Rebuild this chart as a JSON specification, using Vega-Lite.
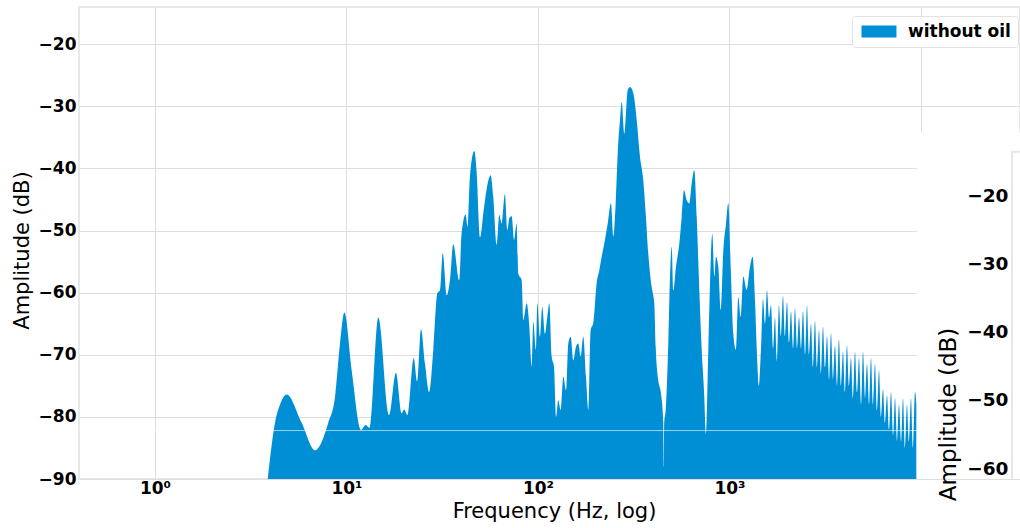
{
  "$schema": "https://vega.github.io/schema/vega-lite/v6.json",
  "width": 941,
  "height": 472,
  "autosize": {"type": "none"},
  "padding": {"left": 79, "top": 7, "right": 0, "bottom": 49},
  "background": "white",
  "config": {
    "font": "DejaVu Sans",
    "view": {"stroke": "#e8e8e8", "strokeWidth": 2},
    "axis": {
      "gridColor": "#dedede",
      "gridWidth": 1,
      "labelColor": "black",
      "titleColor": "black",
      "labelFontWeight": "bold",
      "labelFontSize": 17,
      "titleFontWeight": "normal",
      "titleFontSize": 21,
      "ticks": false,
      "domain": false
    }
  },
  "data": {
    "values": [
      {"frequency": 3.88, "amplitude": -90},
      {"frequency": 4.23, "amplitude": -81.0},
      {"frequency": 4.5, "amplitude": -78.0},
      {"frequency": 4.87, "amplitude": -76.4},
      {"frequency": 5.84, "amplitude": -81.0},
      {"frequency": 6.85, "amplitude": -85.4},
      {"frequency": 8.03, "amplitude": -81.0},
      {"frequency": 8.71, "amplitude": -76.8},
      {"frequency": 9.25, "amplitude": -68.2},
      {"frequency": 9.75, "amplitude": -63.2},
      {"frequency": 10.64, "amplitude": -72.5},
      {"frequency": 11.9, "amplitude": -82.1},
      {"frequency": 12.6, "amplitude": -81.3},
      {"frequency": 13.2, "amplitude": -81.8},
      {"frequency": 14.66, "amplitude": -64.0},
      {"frequency": 16.67, "amplitude": -79.7},
      {"frequency": 18.13, "amplitude": -72.9},
      {"frequency": 19.42, "amplitude": -79.4},
      {"frequency": 20.0, "amplitude": -78.8},
      {"frequency": 20.8, "amplitude": -79.7},
      {"frequency": 22.45, "amplitude": -70.5},
      {"frequency": 23.4, "amplitude": -74.3},
      {"frequency": 24.5, "amplitude": -65.9},
      {"frequency": 25.7, "amplitude": -71.4},
      {"frequency": 27.0, "amplitude": -76.0},
      {"frequency": 28.4, "amplitude": -69.2},
      {"frequency": 29.8, "amplitude": -60.1},
      {"frequency": 30.8, "amplitude": -59.6},
      {"frequency": 31.8, "amplitude": -53.6},
      {"frequency": 33.4, "amplitude": -60.4},
      {"frequency": 34.7, "amplitude": -57.9},
      {"frequency": 36.1, "amplitude": -52.2},
      {"frequency": 38.8, "amplitude": -58.0},
      {"frequency": 39.9, "amplitude": -50.5},
      {"frequency": 41.9, "amplitude": -47.4},
      {"frequency": 42.9, "amplitude": -49.4},
      {"frequency": 44.1, "amplitude": -41.4},
      {"frequency": 46.5, "amplitude": -37.2},
      {"frequency": 47.8, "amplitude": -40.5},
      {"frequency": 49.8, "amplitude": -51.1},
      {"frequency": 52.2, "amplitude": -46.4},
      {"frequency": 54.6, "amplitude": -42.4},
      {"frequency": 56.6, "amplitude": -41.1},
      {"frequency": 58.4, "amplitude": -44.6},
      {"frequency": 60.9, "amplitude": -52.3},
      {"frequency": 62.8, "amplitude": -47.5},
      {"frequency": 64.6, "amplitude": -48.9},
      {"frequency": 67.2, "amplitude": -44.1},
      {"frequency": 69.2, "amplitude": -49.9},
      {"frequency": 70.8, "amplitude": -48.0},
      {"frequency": 72.9, "amplitude": -47.7},
      {"frequency": 74.9, "amplitude": -51.5},
      {"frequency": 77.4, "amplitude": -48.9},
      {"frequency": 78.9, "amplitude": -56.9},
      {"frequency": 82.2, "amplitude": -58.0},
      {"frequency": 83.8, "amplitude": -64.4},
      {"frequency": 87.3, "amplitude": -61.7},
      {"frequency": 90.1, "amplitude": -65.5},
      {"frequency": 92.7, "amplitude": -71.9},
      {"frequency": 94.5, "amplitude": -64.7},
      {"frequency": 97.6, "amplitude": -69.2},
      {"frequency": 99.2, "amplitude": -61.7},
      {"frequency": 102.4, "amplitude": -67.1},
      {"frequency": 105.3, "amplitude": -62.3},
      {"frequency": 108.8, "amplitude": -66.6},
      {"frequency": 111.8, "amplitude": -63.9},
      {"frequency": 114.6, "amplitude": -61.7},
      {"frequency": 117.9, "amplitude": -70.3},
      {"frequency": 121.2, "amplitude": -71.9},
      {"frequency": 124.2, "amplitude": -80.0},
      {"frequency": 127.6, "amplitude": -77.3},
      {"frequency": 131.4, "amplitude": -78.9},
      {"frequency": 135.6, "amplitude": -73.5},
      {"frequency": 140.1, "amplitude": -75.7},
      {"frequency": 143.9, "amplitude": -68.2},
      {"frequency": 148.2, "amplitude": -67.1},
      {"frequency": 152.9, "amplitude": -70.9},
      {"frequency": 157.9, "amplitude": -68.7},
      {"frequency": 162.3, "amplitude": -68.2},
      {"frequency": 167.1, "amplitude": -70.3},
      {"frequency": 172.4, "amplitude": -67.1},
      {"frequency": 178.1, "amplitude": -73.5},
      {"frequency": 183.1, "amplitude": -78.9},
      {"frequency": 188.4, "amplitude": -66.0},
      {"frequency": 194.4, "amplitude": -64.9},
      {"frequency": 202.5, "amplitude": -58.5},
      {"frequency": 209.0, "amplitude": -56.4},
      {"frequency": 213.3, "amplitude": -54.8},
      {"frequency": 221.9, "amplitude": -52.1},
      {"frequency": 231.2, "amplitude": -48.9},
      {"frequency": 240.6, "amplitude": -45.6},
      {"frequency": 247.3, "amplitude": -51.0},
      {"frequency": 254.5, "amplitude": -45.6},
      {"frequency": 260.8, "amplitude": -37.6},
      {"frequency": 268.1, "amplitude": -32.2},
      {"frequency": 273.6, "amplitude": -29.3},
      {"frequency": 282.3, "amplitude": -34.4},
      {"frequency": 294.1, "amplitude": -27.4},
      {"frequency": 302.3, "amplitude": -26.9},
      {"frequency": 314.6, "amplitude": -27.9},
      {"frequency": 327.7, "amplitude": -32.2},
      {"frequency": 340.9, "amplitude": -38.1},
      {"frequency": 354.6, "amplitude": -41.9},
      {"frequency": 365.1, "amplitude": -47.2},
      {"frequency": 376.7, "amplitude": -53.7},
      {"frequency": 392.4, "amplitude": -59.1},
      {"frequency": 404.9, "amplitude": -61.7},
      {"frequency": 411.7, "amplitude": -68.7},
      {"frequency": 424.8, "amplitude": -74.1},
      {"frequency": 438.8, "amplitude": -76.2},
      {"frequency": 451.1, "amplitude": -81.0},
      {"frequency": 453.5, "amplitude": -88.0},
      {"frequency": 456.0, "amplitude": -81.0},
      {"frequency": 464.3, "amplitude": -78.9},
      {"frequency": 479.0, "amplitude": -68.2},
      {"frequency": 489.0, "amplitude": -57.4},
      {"frequency": 499.1, "amplitude": -52.6},
      {"frequency": 508.8, "amplitude": -59.6},
      {"frequency": 525.6, "amplitude": -55.8},
      {"frequency": 547.0, "amplitude": -52.1},
      {"frequency": 563.0, "amplitude": -47.8},
      {"frequency": 578.8, "amplitude": -43.5},
      {"frequency": 597.8, "amplitude": -45.1},
      {"frequency": 616.8, "amplitude": -45.6},
      {"frequency": 634.9, "amplitude": -42.4},
      {"frequency": 655.1, "amplitude": -40.3},
      {"frequency": 674.3, "amplitude": -47.8},
      {"frequency": 695.7, "amplitude": -59.6},
      {"frequency": 716.0, "amplitude": -69.2},
      {"frequency": 736.1, "amplitude": -75.7},
      {"frequency": 754.0, "amplitude": -82.7},
      {"frequency": 775.2, "amplitude": -69.2},
      {"frequency": 791.2, "amplitude": -58.5},
      {"frequency": 813.4, "amplitude": -50.5},
      {"frequency": 833.1, "amplitude": -57.4},
      {"frequency": 850.4, "amplitude": -54.2},
      {"frequency": 874.2, "amplitude": -55.8},
      {"frequency": 899.8, "amplitude": -62.8},
      {"frequency": 928.4, "amplitude": -53.2},
      {"frequency": 959.0, "amplitude": -48.9},
      {"frequency": 985.6, "amplitude": -45.6},
      {"frequency": 1014.6, "amplitude": -55.8},
      {"frequency": 1046.7, "amplitude": -66.6},
      {"frequency": 1081.3, "amplitude": -69.2},
      {"frequency": 1111.7, "amplitude": -60.7},
      {"frequency": 1144.2, "amplitude": -63.9},
      {"frequency": 1180.6, "amplitude": -57.4},
      {"frequency": 1229.8, "amplitude": -59.6},
      {"frequency": 1279.4, "amplitude": -55.8},
      {"frequency": 1321.6, "amplitude": -54.2},
      {"frequency": 1358.9, "amplitude": -61.2},
      {"frequency": 1392, "amplitude": -70},
      {"frequency": 1425.6, "amplitude": -75},
      {"frequency": 1460.5, "amplitude": -69},
      {"frequency": 1495.9, "amplitude": -61},
      {"frequency": 1532.3, "amplitude": -65},
      {"frequency": 1569.5, "amplitude": -59.6},
      {"frequency": 1607.9, "amplitude": -64},
      {"frequency": 1646.9, "amplitude": -62},
      {"frequency": 1687.2, "amplitude": -69},
      {"frequency": 1728.1, "amplitude": -64},
      {"frequency": 1770.1, "amplitude": -71},
      {"frequency": 1813.4, "amplitude": -62},
      {"frequency": 1857.4, "amplitude": -67},
      {"frequency": 1902.8, "amplitude": -60.5},
      {"frequency": 1949.0, "amplitude": -67},
      {"frequency": 1996.7, "amplitude": -61.5},
      {"frequency": 2045.2, "amplitude": -68},
      {"frequency": 2094.8, "amplitude": -63},
      {"frequency": 2146.1, "amplitude": -69},
      {"frequency": 2198.2, "amplitude": -62.5},
      {"frequency": 2251.9, "amplitude": -69},
      {"frequency": 2306.7, "amplitude": -64},
      {"frequency": 2363.1, "amplitude": -69},
      {"frequency": 2420.5, "amplitude": -63},
      {"frequency": 2479.7, "amplitude": -70},
      {"frequency": 2539.8, "amplitude": -62},
      {"frequency": 2601.6, "amplitude": -70},
      {"frequency": 2665.2, "amplitude": -65},
      {"frequency": 2730.0, "amplitude": -72},
      {"frequency": 2796.9, "amplitude": -64.5},
      {"frequency": 2864.9, "amplitude": -72},
      {"frequency": 2934.9, "amplitude": -66},
      {"frequency": 3006.1, "amplitude": -73},
      {"frequency": 3079.6, "amplitude": -65.5},
      {"frequency": 3154.5, "amplitude": -72},
      {"frequency": 3231.1, "amplitude": -67},
      {"frequency": 3310.2, "amplitude": -74},
      {"frequency": 3388.4, "amplitude": -66.5},
      {"frequency": 3471.3, "amplitude": -74},
      {"frequency": 3555.8, "amplitude": -68.5},
      {"frequency": 3642.6, "amplitude": -75},
      {"frequency": 3731.2, "amplitude": -67.5},
      {"frequency": 3821.6, "amplitude": -75},
      {"frequency": 3915.2, "amplitude": -69.5},
      {"frequency": 4010.3, "amplitude": -76},
      {"frequency": 4108.3, "amplitude": -68.5},
      {"frequency": 4207.9, "amplitude": -75},
      {"frequency": 4310.9, "amplitude": -70.5},
      {"frequency": 4415.7, "amplitude": -77},
      {"frequency": 4523.7, "amplitude": -69.5},
      {"frequency": 4633.5, "amplitude": -76},
      {"frequency": 4745.6, "amplitude": -70.5},
      {"frequency": 4861.8, "amplitude": -78},
      {"frequency": 4979.8, "amplitude": -69.5},
      {"frequency": 5101.6, "amplitude": -77},
      {"frequency": 5225.6, "amplitude": -71.5},
      {"frequency": 5353.3, "amplitude": -78},
      {"frequency": 5483.4, "amplitude": -70.5},
      {"frequency": 5616.6, "amplitude": -78},
      {"frequency": 5754.4, "amplitude": -71.5},
      {"frequency": 5894.0, "amplitude": -79},
      {"frequency": 6038.4, "amplitude": -72.5},
      {"frequency": 6184.7, "amplitude": -80},
      {"frequency": 6336.4, "amplitude": -75.5},
      {"frequency": 6489.6, "amplitude": -81},
      {"frequency": 6648.3, "amplitude": -76.5},
      {"frequency": 6809.3, "amplitude": -82},
      {"frequency": 6974.2, "amplitude": -76},
      {"frequency": 7144.8, "amplitude": -83},
      {"frequency": 7318.2, "amplitude": -77},
      {"frequency": 7497.2, "amplitude": -84},
      {"frequency": 7679.8, "amplitude": -78},
      {"frequency": 7867.7, "amplitude": -84},
      {"frequency": 8053.9, "amplitude": -77},
      {"frequency": 8249.5, "amplitude": -85},
      {"frequency": 8451.8, "amplitude": -78},
      {"frequency": 8656.5, "amplitude": -84},
      {"frequency": 8868.3, "amplitude": -77},
      {"frequency": 9082.1, "amplitude": -85},
      {"frequency": 9305.9, "amplitude": -76},
      {"frequency": 9474, "amplitude": -78},
      {"frequency": 9480, "amplitude": -90}
    ]
  },
  "layer": [
    {
      "layer": [
        {
          "mark": {"type": "area", "clip": true, "opacity": 1, "interpolate": "monotone"},
          "encoding": {
            "x": {
              "field": "frequency",
              "type": "quantitative",
              "scale": {"type": "log", "domain": [0.401, 32890], "nice": false},
              "axis": {
                "values": [1, 10, 100, 1000, 10000],
                "labelExpr": "datum.value == 1 ? '10⁰' : datum.value == 10 ? '10¹' : datum.value == 100 ? '10²' : datum.value == 1000 ? '10³' : ''",
                "labelPadding": 1,
                "title": "Frequency (Hz, log)",
                "titleX": 475,
                "titleY": 21,
                "titleBaseline": "top",
                "titleAlign": "center"
              }
            },
            "y": {
              "field": "amplitude",
              "type": "quantitative",
              "scale": {"domain": [-90, -14], "nice": false, "zero": false},
              "axis": {
                "values": [-90, -80, -70, -60, -50, -40, -30, -20],
                "labelPadding": 3,
                "title": "Amplitude (dB)",
                "titleX": -57,
                "titleY": 243,
                "titleBaseline": "middle",
                "titleAlign": "center",
                "titleAngle": -90
              }
            },
            "y2": {"datum": -90},
            "color": {
              "datum": "without oil",
              "type": "nominal",
              "scale": {"range": ["#008fd5"]},
              "legend": {
                "title": null,
                "orient": "none",
                "legendX": 773,
                "legendY": 9,
                "fillColor": "white",
                "strokeColor": "#e2e2e2",
                "padding": 7,
                "cornerRadius": 3,
                "labelFontSize": 17,
                "labelFontWeight": "bold",
                "labelColor": "black",
                "labelOffset": 32,
                "symbolType": "M-1,-1H4.83V1H-1Z",
                "symbolSize": 144,
                "symbolStrokeWidth": 0,
                "symbolOpacity": 1
              }
            }
          }
        },
        {
          "data": {"values": [{}]},
          "mark": {"type": "rule", "color": "white", "opacity": 0.6, "strokeWidth": 1},
          "encoding": {"y": {"datum": -82.2}}
        },
        {
          "data": {"values": [{}]},
          "mark": {"type": "rect", "fill": "white", "clip": true},
          "encoding": {
            "x": {"datum": 9490},
            "x2": {"datum": 40000},
            "y": {"datum": -34.2},
            "y2": {"datum": -95}
          }
        }
      ]
    },
    {
      "data": {"values": [{}]},
      "mark": {"type": "rect", "fill": "white", "stroke": "#e6e6e6", "strokeWidth": 2, "clip": true},
      "encoding": {
        "x": {"datum": 29870},
        "x2": {"datum": 40000},
        "y": {
          "datum": -13.66,
          "type": "quantitative",
          "scale": {"domain": [-61.58, 7.53], "nice": false, "zero": false},
          "axis": {
            "orient": "left",
            "offset": -933,
            "zindex": 1,
            "grid": false,
            "values": [-20, -30, -40, -50, -60],
            "labelFontSize": 18.5,
            "labelPadding": 4,
            "title": "Amplitude (dB)",
            "titleFontSize": 23,
            "titleX": -64,
            "titleY": 407,
            "titleBaseline": "middle",
            "titleAlign": "center",
            "titleAngle": -90
          }
        },
        "y2": {"datum": -100}
      }
    }
  ],
  "resolve": {"scale": {"y": "independent"}, "axis": {"y": "independent"}}
}
